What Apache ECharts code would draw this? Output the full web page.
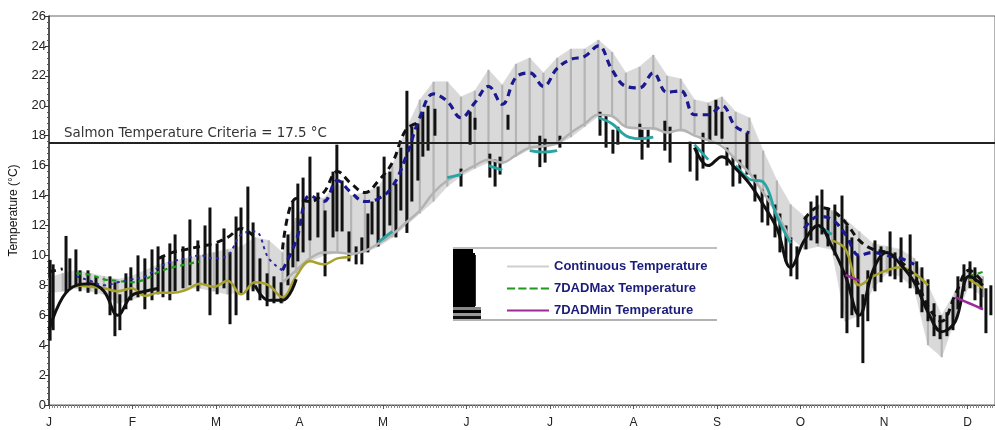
<!DOCTYPE html>
<html><head><meta charset="utf-8">
<script src="https://cdn.jsdelivr.net/npm/echarts@6/dist/echarts.min.js"></script>
<style>html,body{margin:0;padding:0;background:#fff}#c{width:995px;height:430px}</style>
</head><body><div id="c"></div>
<script>
const N = null;
const monthLabels = ['J','F','M','A','M','J','J','A','S','O','N','D'];
const monthLen = 30.4;
// day-of-year sample positions (5-day step)
const days = [0,5,10,15,20,25,30,35,40,45,50,55,60,65,70,75,80,85,90,95,100,105,110,115,120,125,130,135,140,145,150,155,160,165,170,175,180,185,190,195,200,205,210,215,220,225,230,235,240,245,250,255,260,265,270,275,280,285,290,295,300,305,310,315,320,325,330,335,340];
// continuous temperature: daily max / min envelope
const contMax = [8.5,8.8,9.0,8.8,8.6,8.4,8.6,9.0,9.4,9.6,
  9.8,10.0,10.2,10.4,10.6,11.2,11.0,10.2,12.5,14.0,
  13.8,14.8,14.0,14.2,14.6,16.0,18.4,20.4,21.6,21.6,
  20.6,21.0,22.4,21.4,22.8,23.2,22.2,23.2,23.8,23.8,
  24.4,23.6,22.2,22.6,23.4,22.0,21.8,20.4,20.2,20.6,
  19.6,19.2,17.0,15.0,13.4,12.6,13.4,13.0,12.4,11.6,
  10.8,10.6,10.4,9.8,8.0,6.0,7.6,9.2,8.6];
const contMin = [7.5,7.6,7.8,7.6,7.4,6.8,7.0,7.4,7.6,7.6,
  7.8,7.8,7.6,7.4,7.6,7.8,7.2,6.8,8.8,9.6,
  10.0,10.2,10.0,10.2,10.6,11.2,12.0,12.8,13.6,14.6,
  15.3,15.8,16.2,16.1,16.6,17.1,17.2,17.4,17.9,18.6,
  19.3,19.3,18.6,18.5,18.4,18.2,18.3,18.1,17.7,17.5,
  16.4,15.5,14.2,13.0,11.2,10.4,10.6,10.4,5.6,6.0,
  7.8,8.8,8.6,7.8,4.0,3.2,5.8,8.0,7.2];
const grayMin7 = [N,N,N,N,N,N,N,N,N,N,
  N,N,N,N,N,N,N,8.2,9.0,9.8,
  10.2,10.2,10.1,10.3,10.8,11.4,12.2,13.0,14.2,15.0,
  15.5,16.0,16.4,16.2,16.7,17.2,17.3,17.5,18.2,18.8,
  19.4,19.3,18.6,18.5,18.5,18.2,18.4,18.0,17.7,17.3,
  16.4,15.5,14.2,12.8,11.0,N,N,N,N,N,
  N,N,N,N,N,N,N,N,N];
const navyMax7 = [N,N,8.6,8.3,8.0,8.2,8.4,8.6,9.2,9.6,
  9.8,10.0,9.8,10.0,11.4,11.6,9.8,9.0,11.0,14.0,
  13.6,15.0,14.2,13.6,13.8,14.6,16.6,19.2,20.8,20.3,
  19.2,20.2,21.3,20.1,21.9,22.2,21.3,22.5,23.1,23.3,
  24.0,22.4,21.3,21.2,22.2,20.9,21.0,19.4,19.4,20.0,
  18.6,18.2,N,N,N,11.8,12.6,12.4,11.4,10.0,
  10.2,10.0,9.8,9.4,N,N,N,N,N];
const blackMax7 = [8.9,9.1,N,N,N,N,N,N,9.8,10.2,
  10.4,10.6,10.8,11.2,11.8,11.2,N,10.4,13.8,13.6,
  14.2,15.6,14.8,14.2,15.0,16.2,18.4,18.9,N,N,
  N,N,N,N,N,N,N,N,N,N,
  N,N,N,N,N,N,N,N,N,N,
  N,N,N,N,N,12.4,13.2,13.0,12.2,11.0,
  10.4,10.2,9.6,8.6,6.6,5.6,7.4,9.0,8.2];
const blackMin7 = [5.0,7.2,8.0,8.1,7.6,6.0,7.3,7.6,7.8,N,
  N,N,N,N,N,8.0,7.0,7.0,8.4,N,
  N,N,N,N,N,N,N,N,N,N,
  N,N,N,N,N,N,N,N,N,N,
  N,N,N,N,N,N,N,17.2,16.0,16.6,
  15.8,14.8,13.4,11.8,9.2,11.0,12.0,10.6,8.6,6.0,
  9.0,10.2,9.4,8.2,6.2,4.9,5.6,8.6,8.0];
const cyanMin7 = [N,N,N,N,N,N,N,N,N,N,
  N,N,N,N,N,N,N,N,N,N,
  N,N,N,N,10.9,11.6,N,N,N,15.2,
  15.4,N,16.0,15.7,N,17.0,16.9,17.0,N,N,
  19.2,18.8,18.0,17.8,17.9,N,N,17.4,16.4,N,
  16.0,15.1,14.9,12.6,10.8,N,12.0,11.4,N,N,
  N,N,N,N,N,N,N,N,N];
const oliveMin7 = [N,N,8.0,7.9,7.8,7.6,7.8,7.3,7.5,7.5,
  7.7,8.1,7.9,8.3,7.4,8.2,8.0,7.2,8.6,9.6,
  9.4,9.8,9.9,N,N,N,N,N,N,N,
  N,N,N,N,N,N,N,N,N,N,
  N,N,N,N,N,N,N,N,N,N,
  N,N,N,N,N,N,N,11.0,10.4,8.0,
  8.6,9.0,9.2,8.8,8.0,N,N,8.4,7.8];
const greenMax7 = [N,N,8.8,8.7,8.4,8.3,8.2,8.4,8.9,9.2,
  9.4,9.6,N,N,N,N,N,N,N,N,
  N,N,N,N,N,N,N,N,N,N,
  N,N,N,N,N,N,N,N,N,N,
  N,N,N,N,N,N,N,N,N,N,
  N,N,N,N,N,N,N,N,N,N,
  N,N,N,N,N,N,N,8.6,8.9];
const purpleMin7 = [N,N,N,N,N,N,N,N,N,N,
  N,N,N,N,N,N,N,N,N,N,
  N,N,N,N,N,N,N,N,N,N,
  N,N,N,N,N,N,N,N,N,N,
  N,N,N,N,N,N,N,N,N,N,
  N,N,N,N,N,N,N,N,8.7,8.3,
  N,N,N,N,N,N,7.2,6.8,6.4];
// second logger: daily ranges (black spikes)
const spikeDays = [0.4,1.5,6.2,7.6,9.8,11.3,14.2,17.1,22.2,24.0,
  25.8,28.0,29.8,32.4,34.9,37.5,39.7,41.5,44.0,45.9,
  48.8,51.3,54.2,56.8,58.6,61.2,63.7,65.9,68.1,69.9,
  72.4,74.3,76.8,79.4,81.9,84.5,87.0,88.8,90.6,92.5,
  95.0,97.9,100.5,103.4,104.8,106.7,109.2,111.8,113.9,116.1,
  117.6,119.8,122.0,124.1,126.3,128.1,130.3,132.1,134.3,136.1,
  138.0,140.5,150.0,153.3,155.1,160.5,162.4,164.2,167.1,178.7,
  180.6,186.0,200.6,202.8,205.3,207.1,215.1,215.9,218.1,224.2,
  226.1,233.4,235.9,238.1,240.6,242.8,245.0,246.8,249.0,251.5,
  254.1,257.0,259.6,261.7,264.3,266.1,268.3,270.1,272.3,275.6,
  277.4,279.6,281.4,283.6,286.1,288.7,290.5,292.3,294.5,296.3,
  298.1,300.7,302.9,306.2,308.0,310.2,313.5,315.9,317.8,320.0,
  322.2,324.4,326.9,329.1,330.9,333.1,335.3,337.1,339.3,341.1,
  342.9];
const spikeLow = [4.3,5.0,7.5,7.8,8.0,7.6,7.5,7.4,6.0,4.6,
  5.0,6.4,7.0,7.2,6.4,7.0,7.4,7.2,7.0,7.6,
  7.8,8.0,7.6,8.0,6.0,7.4,7.8,5.4,6.0,7.4,
  7.0,7.6,7.0,6.6,6.8,6.8,8.0,9.2,9.6,10.2,
  11.0,11.2,8.6,11.2,11.6,11.6,9.6,9.4,9.4,10.2,
  11.4,10.6,11.0,12.0,11.2,13.0,11.5,13.6,15.0,16.6,
  17.0,18.0,14.6,17.4,18.4,15.2,14.6,15.4,18.4,15.9,
  16.2,17.2,18.0,17.2,16.8,17.4,17.8,16.4,17.2,17.0,
  16.2,15.6,15.0,15.8,17.6,18.0,17.8,16.0,14.6,14.8,
  15.4,13.6,12.2,12.0,11.2,10.2,9.6,8.6,8.4,10.4,
  11.0,10.8,11.4,10.6,10.0,5.8,4.8,6.0,5.2,2.8,
  5.6,7.6,8.2,8.6,8.4,8.2,7.8,7.4,6.2,5.6,
  4.6,4.4,4.6,5.0,6.4,7.6,7.8,7.0,6.4,4.8,
  6.0];
const spikeHigh = [9.7,9.4,11.3,9.8,10.4,9.0,9.0,8.6,8.6,8.2,
  7.4,8.8,9.2,10.0,9.8,10.4,10.6,10.0,10.8,11.4,
  10.6,12.4,11.0,12.0,13.2,10.8,11.8,10.2,12.6,13.2,
  14.6,12.2,9.8,8.8,8.6,8.2,11.4,13.6,14.8,15.2,
  16.6,14.2,13.0,15.6,17.4,15.0,11.6,10.6,11.2,12.8,
  13.6,14.6,16.6,15.6,14.8,17.2,21.0,18.6,18.8,19.6,
  20.0,19.8,15.8,19.6,19.2,16.8,16.4,16.6,19.4,18.0,
  17.8,18.0,19.6,19.4,18.4,18.6,18.8,18.4,18.4,19.0,
  18.6,17.6,17.2,18.2,20.0,20.4,19.6,17.2,16.6,16.4,
  18.2,15.4,14.4,14.0,13.4,12.8,12.0,11.2,10.6,12.6,
  13.6,14.0,14.4,13.2,13.4,14.0,12.0,11.2,10.0,7.4,
  9.0,11.0,10.6,11.6,10.2,11.2,11.4,9.6,9.2,8.4,
  6.8,6.0,6.2,7.0,8.6,9.4,9.6,9.2,8.4,7.8,
  8.0];
const criteria = 17.5;

const FONT = 'Liberation Sans, Arial, sans-serif';
function pts(arr){ return days.map((d,i)=>[d, arr[i]]); }
const bandData = days.map((d,i)=>[d, contMin[i], contMax[i]]);
const spikeData = spikeDays.map((d,i)=>[d, spikeLow[i], spikeHigh[i]]);

function lineSeries(name, data, color, width, type, z){
  return {type:'line', name:name, data:data, symbol:'none', smooth:0.4, connectNulls:false,
    lineStyle:{color:color, width:width, type:type}, itemStyle:{color:color}, z:z||3, silent:true};
}
const navyPts = pts(navyMax7);

const chart = echarts.init(document.getElementById('c'));
chart.setOption({
  animation:false,
  backgroundColor:'#fff',
  grid:{left:49, right:0, top:16, bottom:25, containLabel:false, outerBoundsMode:'none',
    show:true, borderColor:'#666', borderWidth:1},
  xAxis:{type:'value', min:0, max:344.4, interval:monthLen,
    axisLine:{show:true, onZero:false, lineStyle:{color:'#555', width:1}},
    axisTick:{show:true, length:4, lineStyle:{color:'#555'}},
    minorTick:{show:true, splitNumber:30, length:3, lineStyle:{color:'#888'}},
    splitLine:{show:false},
    axisLabel:{margin:12, color:'#222', fontSize:12, fontFamily:FONT,
      formatter:function(v){ const i=Math.round(v/monthLen); return (Math.abs(v-i*monthLen)<0.5 && i<12)? monthLabels[i] : ''; }}},
  yAxis:{type:'value', min:0, max:26, interval:2,
    name:'Temperature (°C)', nameLocation:'middle', nameGap:29,
    nameTextStyle:{color:'#111', fontSize:12, fontFamily:FONT},
    axisLine:{show:true, lineStyle:{color:'#333', width:1.5}},
    axisTick:{show:true, length:4, lineStyle:{color:'#333'}},
    minorTick:{show:true, splitNumber:5, length:2, lineStyle:{color:'#555'}},
    splitLine:{show:false},
    axisLabel:{margin:3, color:'#222', fontSize:13, fontFamily:FONT}},
  legend:{orient:'vertical', left:502, top:255, itemWidth:42, itemHeight:14, itemGap:9,
    selectedMode:false,
    textStyle:{color:'#1c1c7a', fontSize:13, fontWeight:'bold', fontFamily:FONT},
    data:[{name:'Continuous Temperature', icon:'path://M0,0H40V2H0Z', itemStyle:{color:'#cfcfcf'}},
          {name:'7DADMax Temperature', icon:'path://M0,0H8V2H0Z M11,0H19V2H11Z M22,0H30V2H22Z M33,0H41V2H33Z', itemStyle:{color:'#1f9a1f'}},
          {name:'7DADMin Temperature', icon:'path://M0,0H40V2H0Z', itemStyle:{color:'#9a2a9a'}}]},
  graphic:[
    {type:'line', z:100, shape:{x1:453,y1:248,x2:717,y2:248}, style:{stroke:'#aaa', lineWidth:1.5}},
    {type:'line', z:100, shape:{x1:453,y1:320,x2:717,y2:320}, style:{stroke:'#999', lineWidth:1.5}},
    {type:'rect', z:100, shape:{x:453,y:249,width:20,height:58}, style:{fill:'#000'}},
    {type:'rect', z:100, shape:{x:453,y:253,width:22,height:54}, style:{fill:'#000'}},
    {type:'line', z:100, shape:{x1:475.5,y1:255,x2:475.5,y2:306}, style:{stroke:'#1a1acc', lineWidth:1}},
    {type:'rect', z:100, shape:{x:453,y:307,width:28,height:3}, style:{fill:'#888'}},
    {type:'rect', z:100, shape:{x:453,y:310,width:28,height:3}, style:{fill:'#000'}},
    {type:'rect', z:100, shape:{x:453,y:313,width:28,height:3}, style:{fill:'#999'}},
    {type:'rect', z:100, shape:{x:453,y:316,width:28,height:3}, style:{fill:'#111'}},
    {type:'text', z:100, left:64, top:127, style:{text:'Salmon Temperature Criteria = 17.5 °C',
      fill:'#333', font:'13.4px DejaVu Sans, sans-serif'}}
  ],
  series:[
    {type:'custom', name:'Continuous Temperature', data:bandData, encode:{x:0, y:[1,2]}, z:1, silent:true,
      itemStyle:{color:'#d0d0d0'},
      renderItem:function(params, api){
        const i = params.dataIndex;
        if (i >= days.length-1) return null;
        const p = [api.coord([days[i], contMax[i]]), api.coord([days[i+1], contMax[i+1]]),
                   api.coord([days[i+1], contMin[i+1]]), api.coord([days[i], contMin[i]])];
        return {type:'polygon', shape:{points:p}, style:{fill:'#d9d9d9', stroke:'#d9d9d9', lineWidth:0.6}};
      }},
    {type:'custom', name:'contStripes', data:bandData, encode:{x:0, y:[1,2]}, z:1, silent:true,
      renderItem:function(params, api){
        const a = api.coord([api.value(0), api.value(1)]), b = api.coord([api.value(0), api.value(2)]);
        return {type:'line', shape:{x1:a[0],y1:a[1],x2:b[0],y2:b[1]}, style:{stroke:'#b4b4b4', lineWidth:2.2}};
      }},
    lineSeries('grayMin7', pts(grayMin7), '#b3b3b3', 2.5, 'solid', 2),
    {type:'custom', name:'blackSpikes', data:spikeData, encode:{x:0, y:[1,2]}, z:2, silent:true,
      renderItem:function(params, api){
        const a = api.coord([api.value(0), api.value(1)]), b = api.coord([api.value(0), api.value(2)]);
        return {type:'line', shape:{x1:a[0],y1:a[1],x2:b[0],y2:b[1]}, style:{stroke:'#111', lineWidth:3}};
      }},
    lineSeries('olive', pts(oliveMin7), '#a8a22c', 2.5, 'solid', 3),
    lineSeries('7DADMax Temperature', pts(greenMax7), '#1f9a1f', 2.2, [5,4], 3),
    lineSeries('cyan', pts(cyanMin7), '#2aa3a3', 2.8, 'solid', 3),
    lineSeries('blackMin7', pts(blackMin7), '#111', 3, 'solid', 3),
    lineSeries('navyEarly', navyPts.slice(0,18), '#2a2aa0', 2, [3,4], 4),
    Object.assign(lineSeries('navy', navyPts.slice(17), '#1a1a8e', 3.2, [7,5], 4), {
      markLine:{silent:true, symbol:'none', animation:false, label:{show:false},
        lineStyle:{color:'#222', width:2, type:'solid'}, data:[{yAxis:criteria}]}}),
    lineSeries('blackMax7', pts(blackMax7), '#111', 3, [7,5], 4),
    lineSeries('7DADMin Temperature', pts(purpleMin7), '#9a2a9a', 2.5, 'solid', 4)
  ]
});
</script></body></html>
